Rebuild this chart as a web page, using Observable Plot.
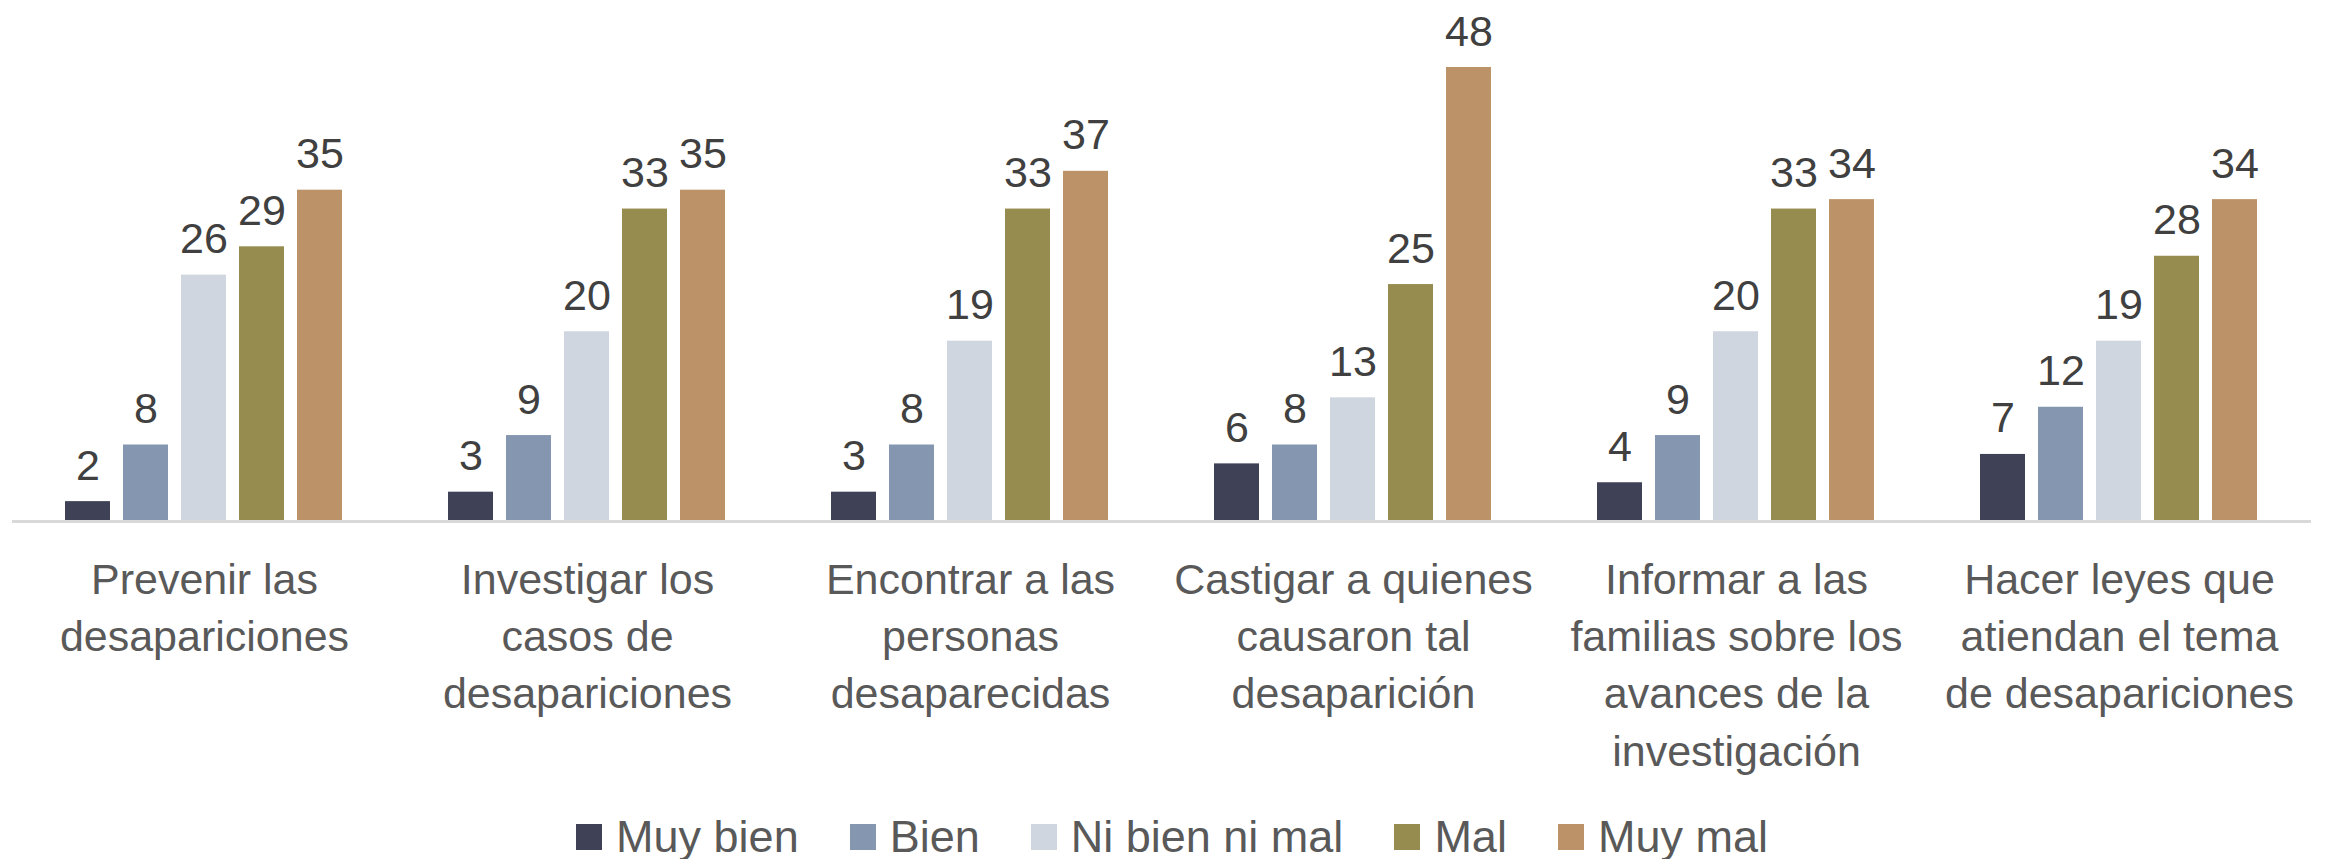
<!DOCTYPE html>
<html><head><meta charset="utf-8">
<script src="https://cdn.jsdelivr.net/npm/d3@7"></script>
<script src="https://cdn.jsdelivr.net/npm/@observablehq/plot@0.6"></script>
<style>
body{margin:0;background:#fff;font-family:"Liberation Sans",Arial,sans-serif;}
#legend{display:flex;justify-content:center;align-items:center;height:59px;padding-top:14px;font-size:45px;color:#595959;padding-left:14px;box-sizing:border-box;width:2330px}
.item{display:flex;align-items:center;margin-right:51px}
.item:last-child{margin-right:0}
.sw{width:26px;height:26px;margin-right:14px}
</style></head><body><div id="chart"></div><div id="legend"></div>
<script>
const groups = [
  "Prevenir las\ndesapariciones",
  "Investigar los\ncasos de\ndesapariciones",
  "Encontrar a las\npersonas\ndesaparecidas",
  "Castigar a quienes\ncausaron tal\ndesaparición",
  "Informar a las\nfamilias sobre los\navances de la\ninvestigación",
  "Hacer leyes que\natiendan el tema\nde desapariciones"
];
const categories = ["Muy bien", "Bien", "Ni bien ni mal", "Mal", "Muy mal"];
const colors = ["#3f4257", "#8596b0", "#cfd6e0", "#968c4f", "#bc9368"];
const muyBien = [2, 3, 3, 6, 4, 7];
const bien = [8, 9, 8, 8, 9, 12];
const niBienNiMal = [26, 20, 19, 13, 20, 19];
const mal = [29, 33, 33, 25, 33, 28];
const muyMal = [35, 35, 37, 48, 34, 34];
const series = [muyBien, bien, niBienNiMal, mal, muyMal];

const data = [];
groups.forEach((g, i) => categories.forEach((c, j) => data.push({group: g, cat: c, value: series[j][i]})));

const chart = Plot.plot({
  width: 2330, height: 800,
  marginLeft: 12, marginRight: 19, marginTop: 67, marginBottom: 280,
  fx: {domain: groups, paddingInner: 0.2637, paddingOuter: 0.13, label: null},
  x: {domain: categories, paddingInner: 0.22, paddingOuter: 0, axis: null},
  y: {domain: [0, 48], axis: null},
  color: {domain: categories, range: colors},
  style: {fontFamily: '"Liberation Sans", Arial, sans-serif', background: "white", overflow: "visible"},
  marks: [
    Plot.ruleY([0], {stroke: "#d9d9d9", strokeWidth: 3, dy: 1, insetLeft: -51, insetRight: -51}),
    Plot.barY(data, {fx: "group", x: "cat", y: "value", fill: "cat"}),
    Plot.text(data, {fx: "group", x: "cat", y: "value", text: d => String(d.value), dy: -22, lineAnchor: "bottom", fontSize: 43, fill: "#404040"}),
    Plot.axisFx({anchor: "bottom", tickSize: 0, tickPadding: 33, fontSize: 43, lineHeight: 1.33, fill: "#595959", label: null})
  ]
});
document.getElementById("chart").appendChild(chart);

const legend = d3.select("#legend");
categories.forEach((c, i) => {
  const it = legend.append("div").attr("class", "item");
  it.append("div").attr("class", "sw").style("background", colors[i]);
  it.append("span").text(c);
});
</script></body></html>
